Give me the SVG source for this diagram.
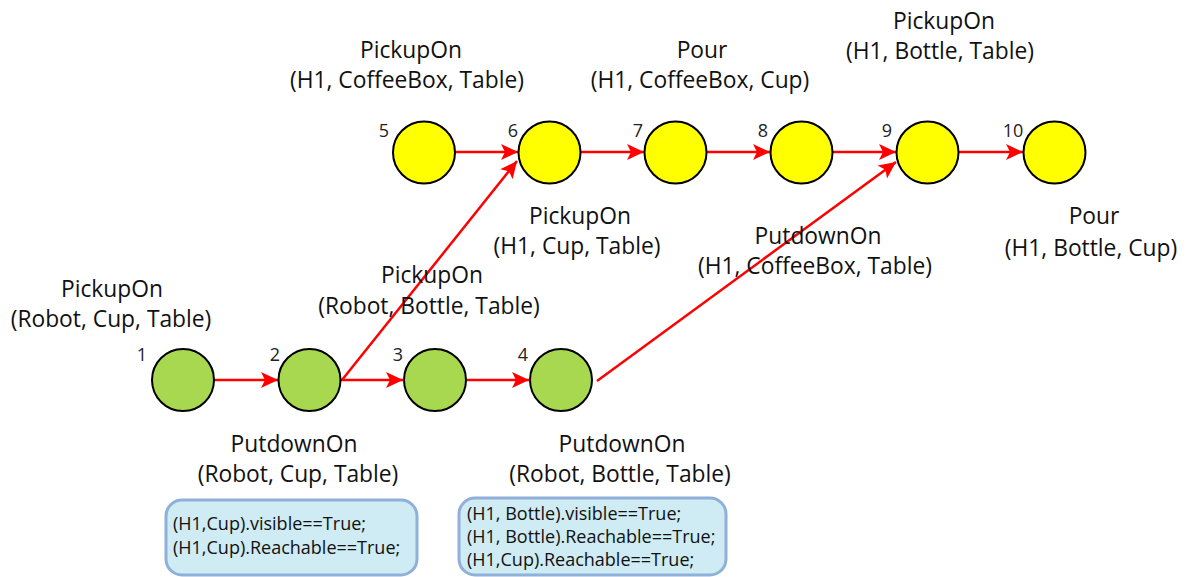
<svg xmlns="http://www.w3.org/2000/svg" width="1187" height="577" viewBox="0 0 1187 577">
<defs>
<marker id="ah" markerUnits="userSpaceOnUse" markerWidth="18" markerHeight="18" viewBox="0 0 18 18" refX="17" refY="9" orient="auto">
<path d="M0,1 L17,9 L0,17 L4,9 Z" fill="#ff0000"/>
</marker>
<style>
.g{fill:#a8d84f;stroke:#000;stroke-width:2}
.y{fill:#ffff00;stroke:#000;stroke-width:2}
.e{stroke:#ff0000;stroke-width:2.5;fill:none;marker-end:url(#ah)}
.n{font-family:"Open Sans","Liberation Sans",sans-serif;font-size:18px;fill:#222;text-anchor:middle}
.l{font-family:"Open Sans","Liberation Sans",sans-serif;font-size:22.8px;fill:#111;text-anchor:middle}
.b{fill:#cfebf3;stroke:#8fb0d8;stroke-width:3}
.t{font-family:"Open Sans","Liberation Sans",sans-serif;font-size:18px;fill:#111}
</style>
</defs>
<rect width="1187" height="577" fill="#fff"/>
<g id="connectors">
<line class="e" x1="214" y1="380" x2="278" y2="380"/>
<line class="e" x1="341" y1="380" x2="403" y2="380"/>
<line class="e" x1="467" y1="380" x2="529" y2="380"/>
<line class="e" x1="342" y1="380" x2="517" y2="161"/>
<line class="e" x1="597" y1="381" x2="896" y2="162"/>
<line class="e" x1="455" y1="152" x2="518" y2="152"/>
<line class="e" x1="581" y1="152" x2="644" y2="152"/>
<line class="e" x1="707" y1="152" x2="770" y2="152"/>
<line class="e" x1="833" y1="152" x2="896" y2="152"/>
<line class="e" x1="959" y1="152" x2="1023" y2="152"/>
</g>
<g id="n1"><circle class="g" cx="183" cy="380" r="31"/><text class="n" x="142" y="361">1</text></g>
<g id="n2"><circle class="g" cx="309.5" cy="380" r="31"/><text class="n" x="275" y="361">2</text></g>
<g id="n3"><circle class="g" cx="435" cy="380" r="31"/><text class="n" x="398" y="361">3</text></g>
<g id="n4"><circle class="g" cx="561" cy="380" r="31"/><text class="n" x="523" y="361">4</text></g>
<g id="n5"><circle class="y" cx="424" cy="152.5" r="31"/><text class="n" x="384" y="137">5</text></g>
<g id="n6"><circle class="y" cx="549.5" cy="152.5" r="31"/><text class="n" x="513" y="137">6</text></g>
<g id="n7"><circle class="y" cx="675.5" cy="152.5" r="31"/><text class="n" x="638" y="137">7</text></g>
<g id="n8"><circle class="y" cx="801.5" cy="152.5" r="31"/><text class="n" x="763" y="137">8</text></g>
<g id="n9"><circle class="y" cx="927.5" cy="152.5" r="31"/><text class="n" x="887" y="137">9</text></g>
<g id="n10"><circle class="y" cx="1054.5" cy="152.5" r="31"/><text class="n" x="1013" y="137">10</text></g>
<g id="labels">
<text class="l" x="112" y="297">PickupOn</text>
<text class="l" x="111" y="327">(Robot, Cup, Table)</text>
<text class="l" x="294" y="452">PutdownOn</text>
<text class="l" x="298" y="482">(Robot, Cup, Table)</text>
<text class="l" x="622" y="452">PutdownOn</text>
<text class="l" x="620" y="482">(Robot, Bottle, Table)</text>
<text class="l" x="432" y="283">PickupOn</text>
<text class="l" x="429" y="314">(Robot, Bottle, Table)</text>
<text class="l" x="580" y="224">PickupOn</text>
<text class="l" x="577" y="254">(H1, Cup, Table)</text>
<text class="l" x="411" y="58">PickupOn</text>
<text class="l" x="407" y="88">(H1, CoffeeBox, Table)</text>
<text class="l" x="702" y="58">Pour</text>
<text class="l" x="700" y="88">(H1, CoffeeBox, Cup)</text>
<text class="l" x="944" y="29">PickupOn</text>
<text class="l" x="940" y="59">(H1, Bottle, Table)</text>
<text class="l" x="818" y="244">PutdownOn</text>
<text class="l" x="815" y="274">(H1, CoffeeBox, Table)</text>
<text class="l" x="1094" y="224">Pour</text>
<text class="l" x="1091" y="256">(H1, Bottle, Cup)</text>
</g>
<g id="box1">
<rect class="b" x="166" y="500" width="251" height="75" rx="16"/>
<text class="t" x="173" y="530">(H1,Cup).visible==True;</text>
<text class="t" x="173" y="554">(H1,Cup).Reachable==True;</text>
</g>
<g id="box2">
<rect class="b" x="459" y="498" width="267" height="77" rx="16"/>
<text class="t" x="467" y="520">(H1, Bottle).visible==True;</text>
<text class="t" x="467" y="543">(H1, Bottle).Reachable==True;</text>
<text class="t" x="467" y="566">(H1,Cup).Reachable==True;</text>
</g>
</svg>
